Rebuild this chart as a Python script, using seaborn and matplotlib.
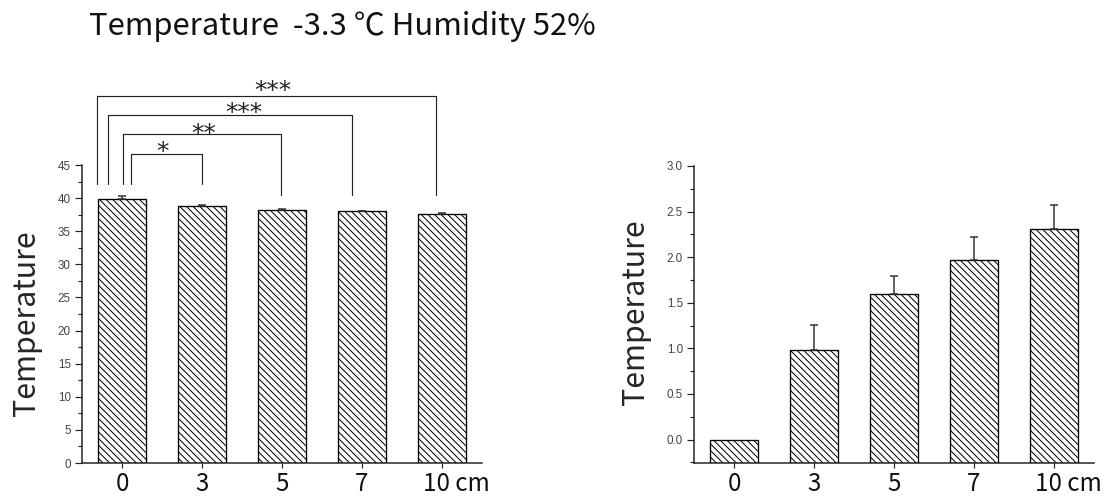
import numpy as np
import pandas as pd
import matplotlib
matplotlib.use("Agg")
import matplotlib.pyplot as plt
import matplotlib.transforms as mtransforms
from matplotlib.ticker import MultipleLocator
import seaborn as sns

# ---------------- data ----------------
categories = ["0", "3", "5", "7", "10"]
tick_labels = ["0", "3", "5", "7", "10 cm"]

left_values = [39.9, 38.85, 38.2, 38.0, 37.6]
left_errors = [0.35, 0.15, 0.15, 0.10, 0.15]

right_values = [0.0, 0.98, 1.60, 1.97, 2.31]
right_errors = [0.0, 0.28, 0.195, 0.256, 0.267]

# significance brackets: (x_left, x_right, y_top, y_left_end, y_right_end)
bracket_x_left = [0.11, 0.01, -0.17, -0.31]
bracket_x_right = [1.00, 1.99, 2.88, 3.93]
bracket_y_top = [46.7, 49.7, 52.5, 55.4]
bracket_y_left = [42.1, 42.1, 42.1, 42.1]
bracket_y_right = [42.1, 40.4, 40.4, 40.4]
star_labels = ["*", "**", "***", "***"]
star_x = [0.51, 1.02, 1.52, 1.89]
star_y = [48.1, 50.8, 54.0, 57.4]

title_text = "Temperature  -3.3 \u2103 Humidity 52%"
ylabel_text = "Temperature"

# ---------------- style ----------------
sns.set_style("ticks")
plt.rcParams["font.family"] = ["Noto Sans CJK KR", "DejaVu Sans"]
plt.rcParams["hatch.linewidth"] = 0.6
plt.rcParams["hatch.color"] = "black"

DPI = 120
fig = plt.figure(figsize=(1111 / DPI, 501 / DPI), dpi=DPI)
W, H = 1111.0, 501.0

ax1 = fig.add_axes([82 / W, 38 / H, 400 / W, 298 / H])
ax2 = fig.add_axes([694 / W, 38 / H, 400 / W, 297 / H])

main_font = ["Noto Sans CJK KR", "DejaVu Sans"]
HATCH = "\\" * 6


def draw_panel(ax, values, errors, ylim, major, minor, ymin_bar):
    df = pd.DataFrame({"cat": categories, "val": values})
    sns.barplot(data=df, x="cat", y="val", ax=ax, color="white", saturation=1,
                edgecolor="black", linewidth=0.8, hatch=HATCH, width=0.6,
                errorbar=None, zorder=2)
    # bars start at the bottom of the axis
    for p, v in zip(ax.patches, values):
        p.set_y(ymin_bar)
        p.set_height(v - ymin_bar)
    pos = np.arange(len(values))
    err = np.array(errors)
    mask = err > 0
    ax.errorbar(pos[mask], np.array(values)[mask],
                yerr=[np.zeros(mask.sum()), err[mask]],
                fmt="none", ecolor="#333333", elinewidth=0.9,
                capsize=2.4, capthick=0.9, zorder=3)
    ax.set_xlim(-0.5, 4.5)
    ax.set_ylim(*ylim)
    ax.yaxis.set_major_locator(MultipleLocator(major))
    ax.yaxis.set_minor_locator(MultipleLocator(minor))
    ax.set_xticks(pos)
    ax.set_xticklabels(tick_labels)
    ax.set_xlabel("")
    ax.set_ylabel(ylabel_text, fontsize=18.2, family=main_font, labelpad=0)
    for s in ["top", "right"]:
        ax.spines[s].set_visible(False)
    for s in ["left", "bottom"]:
        ax.spines[s].set_linewidth(0.9)
        ax.spines[s].set_color("#222222")
    ax.tick_params(axis="y", which="major", length=4.2, width=0.7,
                   labelsize=7.0, pad=2.5, colors="#222222", labelcolor="#444444")
    ax.tick_params(axis="y", which="minor", length=2.4, width=0.7, colors="#222222")
    ax.tick_params(axis="x", which="major", length=3.0, width=0.7,
                   labelsize=14.5, pad=2, colors="#222222", labelcolor="#111111")
    for lab in ax.get_yticklabels():
        lab.set_family("Liberation Sans")
    for lab in ax.get_xticklabels():
        lab.set_family(main_font)
    last = ax.get_xticklabels()[-1]
    last.set_horizontalalignment("left")
    last.set_transform(last.get_transform() +
                       mtransforms.ScaledTranslation(-19 / DPI, 0, fig.dpi_scale_trans))


draw_panel(ax1, left_values, left_errors, (0, 45), 5, 2.5, 0)
draw_panel(ax2, right_values, right_errors, (-0.257, 3.0), 0.5, 0.25, -0.257)

ax1.yaxis.set_label_coords(-0.10, 0.47)
ax2.yaxis.set_label_coords(-0.108, 0.507)

# significance brackets
for xl, xr, yt, yl, yr in zip(bracket_x_left, bracket_x_right, bracket_y_top,
                              bracket_y_left, bracket_y_right):
    ax1.plot([xl, xl, xr, xr], [yl, yt, yt, yr], color="#222222", lw=0.7,
             clip_on=False, zorder=4)
for s, x, y in zip(star_labels, star_x, star_y):
    ax1.annotate(s, xy=(x, y), xytext=(0, -0.59 * 15), textcoords="offset points",
                 ha="center", va="baseline", fontsize=15, family="DejaVu Sans",
                 color="#222222", annotation_clip=False)

fig.text(89 / W, (501 - 35) / H, title_text, ha="left", va="baseline",
         fontsize=18.6, family=main_font, color="#111111")

fig.savefig("out.png", dpi=DPI)
